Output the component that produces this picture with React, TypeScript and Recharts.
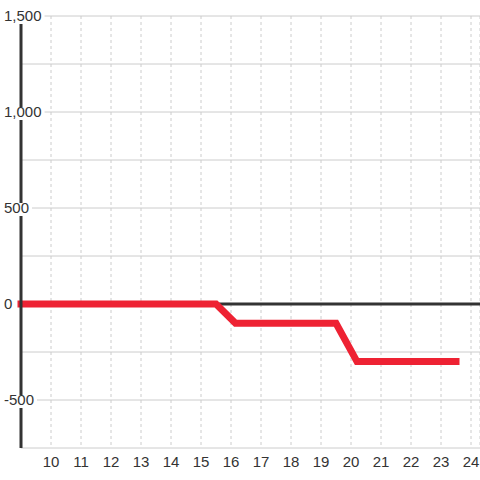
import { CartesianGrid, Line, LineChart, ReferenceLine, XAxis, YAxis } from "recharts";

const hours = [9, 15.5, 16.15, 19.5, 20.2, 23.5];
const values = [0, 0, -100, -100, -300, -300];
const xTicks = [10, 11, 12, 13, 14, 15, 16, 17, 18, 19, 20, 21, 22, 23, 24];
const yTicks = [-750, -500, -250, 0, 250, 500, 750, 1000, 1250, 1500];

const data = hours.map((h, i) => ({ h, v: values[i] }));

const FONT = '"Liberation Sans", Arial, sans-serif';

// only multiples of 500 get a label; label sits on a white box that cuts the axis line
function YTick(props: any) {
  const { y, payload } = props;
  const val = payload.value as number;
  if (val % 500 !== 0) return <g />;
  const label = val.toLocaleString("en-US");
  let w = 0;
  for (const c of label) w += c === "," ? 4.2 : c === "-" ? 5 : 8.34;
  return (
    <g>
      <rect x={1} y={y - 5} width={w + 6} height={13} fill="#fff" />
      <text x={4} y={y} dy="0.36em" fontSize={15} fontFamily={FONT} fill="#333" textAnchor="start">
        {label}
      </text>
    </g>
  );
}

export default function App() {
  return (
    <div style={{ position: "absolute", left: 0, top: 0, background: "#fff" }}>
      <LineChart width={480} height={480} data={data} margin={{ top: 16, right: 0, bottom: 0, left: 0 }}>
        <CartesianGrid vertical={false} stroke="#ccc" />
        <CartesianGrid horizontal={false} stroke="#ccc" strokeDasharray="3 3" />
        <XAxis
          dataKey="h"
          type="number"
          domain={[9, 24.3]}
          ticks={xTicks}
          interval={0}
          axisLine={false}
          tickLine={false}
          height={32}
          tick={{ fontSize: 15, fontFamily: FONT, fill: "#333" }}
        />
        <YAxis
          type="number"
          domain={[-750, 1500]}
          ticks={yTicks}
          interval={0}
          width={21}
          tickLine={false}
          axisLine={{ stroke: "#333", strokeWidth: 3 }}
          tick={<YTick />}
        />
        <ReferenceLine y={0} stroke="#333" strokeWidth={3} />
        <Line
          dataKey="v"
          stroke="#ee2233"
          strokeWidth={7}
          strokeLinecap="square"
          dot={false}
          activeDot={false}
          isAnimationActive={false}
        />
      </LineChart>
    </div>
  );
}
